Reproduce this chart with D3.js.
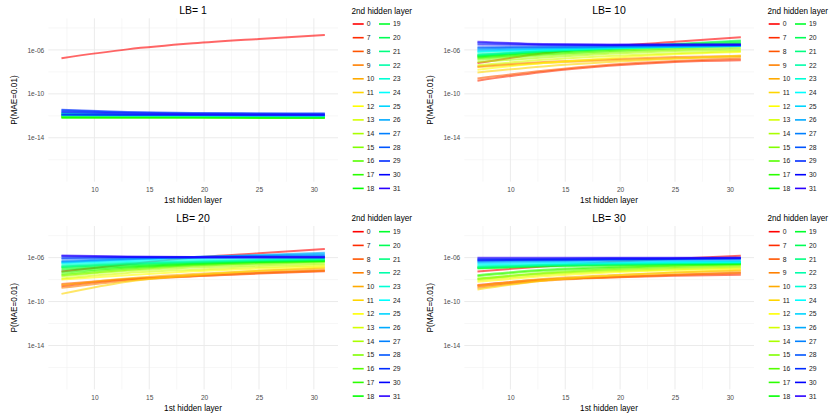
<!DOCTYPE html>
<html>
<head>
<meta charset="utf-8">
<script src="https://cdn.jsdelivr.net/npm/d3@7"></script>
<style>
  body { margin: 0; background: #fff; }
  text { font-family: "Liberation Sans", Arial, sans-serif; }
</style>
</head>
<body>
<svg width="832" height="418"></svg>
<script>
// 1st hidden layer sizes where each smoothed curve is sampled
var hidden1 = [7, 13, 19, 25, 31];

// 2nd hidden layer sizes (one line each)
var hidden2 = [0, 7, 8, 9, 10, 11, 12, 13, 14, 15, 16, 17, 18, 19, 20, 21, 22, 23, 24, 25, 26, 27, 28, 29, 30, 31];

var panelTitles = ["LB= 1", "LB= 10", "LB= 20", "LB= 30"];

var yTicks = [1e-6, 1e-10, 1e-14];
var xTicks = [10, 15, 20, 25, 30];

// log10 of P(MAE=0.01), one row per 2nd hidden layer
var lb1 = [
  [-6.75, -5.95, -5.4, -5.0, -4.64],
  [-11.95, -11.98, -12.0, -12.0, -12.0],
  [-11.9, -11.95, -11.97, -11.98, -12.0],
  [-12.0, -12.02, -12.03, -12.05, -12.05],
  [-11.92, -11.96, -11.98, -12.0, -12.02],
  [-12.05, -12.05, -12.06, -12.07, -12.08],
  [-11.98, -12.0, -12.02, -12.03, -12.04],
  [-12.1, -12.1, -12.1, -12.12, -12.12],
  [-12.05, -12.06, -12.07, -12.08, -12.1],
  [-12.12, -12.13, -12.14, -12.15, -12.15],
  [-12.08, -12.1, -12.11, -12.12, -12.13],
  [-12.15, -12.15, -12.16, -12.17, -12.18],
  [-12.18, -12.18, -12.18, -12.19, -12.2],
  [-11.85, -11.95, -12.0, -12.02, -12.05],
  [-11.75, -11.88, -11.95, -11.98, -12.0],
  [-12.0, -12.02, -12.04, -12.05, -12.06],
  [-11.9, -11.95, -11.98, -12.0, -12.02],
  [-11.8, -11.88, -11.92, -11.95, -11.97],
  [-11.95, -11.97, -11.98, -11.99, -12.0],
  [-11.7, -11.82, -11.88, -11.9, -11.92],
  [-11.6, -11.75, -11.82, -11.85, -11.88],
  [-11.85, -11.88, -11.9, -11.92, -11.93],
  [-11.5, -11.7, -11.78, -11.8, -11.82],
  [-11.45, -11.65, -11.75, -11.78, -11.8],
  [-11.9, -11.92, -11.93, -11.94, -11.95],
  [-11.65, -11.78, -11.85, -11.88, -11.9]
];

var lb10 = [
  [-7.2, -6.3, -5.7, -5.25, -4.85],
  [-8.8, -8.0, -7.45, -7.1, -6.95],
  [-8.6, -7.9, -7.35, -7.0, -6.8],
  [-7.5, -7.1, -6.85, -6.65, -6.55],
  [-7.55, -7.2, -6.95, -6.75, -6.65],
  [-8.05, -7.5, -7.1, -6.8, -6.5],
  [-7.8, -7.2, -6.75, -6.4, -6.2],
  [-7.4, -6.9, -6.55, -6.3, -6.1],
  [-7.1, -6.7, -6.35, -6.1, -5.95],
  [-6.9, -6.5, -6.2, -5.95, -5.8],
  [-6.75, -6.4, -6.1, -5.85, -5.6],
  [-6.7, -6.3, -6.0, -5.7, -5.45],
  [-6.6, -6.2, -5.9, -5.6, -5.35],
  [-6.55, -6.15, -5.85, -5.5, -5.2],
  [-6.5, -6.1, -5.8, -5.45, -5.15],
  [-6.45, -6.1, -5.85, -5.6, -5.4],
  [-6.4, -6.1, -5.9, -5.7, -5.55],
  [-6.2, -6.0, -5.85, -5.75, -5.65],
  [-6.15, -5.95, -5.8, -5.7, -5.65],
  [-6.05, -5.9, -5.75, -5.65, -5.6],
  [-5.95, -5.85, -5.75, -5.7, -5.65],
  [-5.85, -5.75, -5.7, -5.65, -5.6],
  [-5.75, -5.7, -5.65, -5.6, -5.55],
  [-5.35, -5.5, -5.55, -5.55, -5.55],
  [-5.5, -5.55, -5.55, -5.5, -5.5],
  [-5.25, -5.45, -5.5, -5.5, -5.5]
];

var lb20 = [
  [-7.26, -6.6, -6.0, -5.6, -5.22],
  [-8.6, -8.0, -7.7, -7.45, -7.25],
  [-8.4, -7.95, -7.6, -7.35, -7.15],
  [-8.75, -8.1, -7.7, -7.4, -7.2],
  [-8.5, -7.9, -7.5, -7.2, -7.0],
  [-9.3, -8.2, -7.6, -7.2, -6.9],
  [-8.0, -7.6, -7.25, -7.0, -6.8],
  [-7.9, -7.4, -7.1, -6.85, -6.7],
  [-7.7, -7.2, -6.9, -6.7, -6.55],
  [-7.6, -7.1, -6.75, -6.55, -6.4],
  [-7.5, -7.0, -6.7, -6.5, -6.35],
  [-7.3, -6.9, -6.6, -6.4, -6.3],
  [-7.1, -6.8, -6.55, -6.4, -6.3],
  [-6.95, -6.7, -6.5, -6.35, -6.25],
  [-6.85, -6.6, -6.45, -6.3, -6.2],
  [-6.8, -6.55, -6.4, -6.25, -6.15],
  [-6.75, -6.5, -6.35, -6.2, -6.1],
  [-6.6, -6.4, -6.25, -6.15, -6.05],
  [-6.5, -6.3, -6.1, -5.95, -5.85],
  [-6.45, -6.2, -6.0, -5.8, -5.65],
  [-6.4, -6.15, -5.95, -5.75, -5.55],
  [-6.3, -6.1, -5.95, -5.85, -5.75],
  [-6.1, -6.0, -5.95, -5.9, -5.9],
  [-6.0, -5.95, -5.95, -5.95, -5.95],
  [-5.85, -5.95, -6.0, -6.0, -6.0],
  [-5.8, -5.9, -5.95, -5.95, -5.95]
];

var lb30 = [
  [-7.26, -6.8, -6.4, -6.1, -5.82],
  [-8.5, -8.0, -7.8, -7.65, -7.55],
  [-8.6, -8.05, -7.75, -7.55, -7.4],
  [-8.75, -8.1, -7.8, -7.55, -7.35],
  [-8.55, -7.95, -7.6, -7.35, -7.2],
  [-8.9, -8.1, -7.65, -7.35, -7.1],
  [-8.2, -7.7, -7.35, -7.15, -7.0],
  [-8.05, -7.55, -7.25, -7.05, -6.9],
  [-7.9, -7.45, -7.15, -6.95, -6.8],
  [-7.95, -7.4, -7.05, -6.85, -6.7],
  [-7.7, -7.2, -6.95, -6.75, -6.6],
  [-7.6, -7.1, -6.85, -6.7, -6.6],
  [-7.0, -6.8, -6.7, -6.6, -6.55],
  [-6.95, -6.75, -6.65, -6.55, -6.5],
  [-6.9, -6.7, -6.6, -6.55, -6.5],
  [-6.85, -6.7, -6.6, -6.5, -6.45],
  [-6.8, -6.65, -6.55, -6.5, -6.45],
  [-6.7, -6.6, -6.5, -6.45, -6.4],
  [-6.6, -6.5, -6.45, -6.4, -6.4],
  [-6.5, -6.4, -6.35, -6.3, -6.3],
  [-6.4, -6.3, -6.25, -6.2, -6.2],
  [-6.3, -6.25, -6.2, -6.15, -6.1],
  [-6.2, -6.15, -6.1, -6.1, -6.05],
  [-6.1, -6.1, -6.05, -6.05, -6.0],
  [-6.25, -6.2, -6.15, -6.1, -6.05],
  [-6.0, -6.0, -6.0, -6.0, -6.0]
];

var panels = [lb1, lb10, lb20, lb30];

// rainbow colours, 10 degrees of hue per legend entry
var colour = d3.scaleOrdinal()
    .domain(hidden2)
    .range(hidden2.map(function(d, i) { return d3.hsl(i * 10, 1, 0.5).toString(); }));

var svg = d3.select("svg");

var x = d3.scaleLinear().domain([5.8, 32.2]).range([48.3, 338]);
var y = d3.scaleLog().domain([1e-18, Math.pow(10, -3.12)]).range([181.7, 18.3]);

var line = d3.line()
    .curve(d3.curveMonotoneX)
    .x(function(d) { return x(d[0]); })
    .y(function(d) { return y(d[1]); });

var offsets = [[0, 0], [416, 0], [0, 207.7], [416, 207.7]];

panels.forEach(function(rows, p) {
  var g = svg.append("g")
      .attr("transform", "translate(" + offsets[p][0] + "," + offsets[p][1] + ")");

  // minor grid
  var xMinor = [7.5, 12.5, 17.5, 22.5, 27.5];
  var yMinor = [1e-4, 1e-8, 1e-12, 1e-16];
  g.selectAll(".xminor").data(xMinor).enter().append("line")
      .attr("x1", x).attr("x2", x).attr("y1", 18.3).attr("y2", 181.7)
      .attr("stroke", "#f2f2f2").attr("stroke-width", 0.6);
  g.selectAll(".yminor").data(yMinor).enter().append("line")
      .attr("y1", y).attr("y2", y).attr("x1", 48.3).attr("x2", 338)
      .attr("stroke", "#f2f2f2").attr("stroke-width", 0.6);
  // major grid
  g.selectAll(".xmajor").data(xTicks).enter().append("line")
      .attr("x1", x).attr("x2", x).attr("y1", 18.3).attr("y2", 181.7)
      .attr("stroke", "#ebebeb").attr("stroke-width", 1);
  g.selectAll(".ymajor").data(yTicks).enter().append("line")
      .attr("y1", y).attr("y2", y).attr("x1", 48.3).attr("x2", 338)
      .attr("stroke", "#ebebeb").attr("stroke-width", 1);

  // axes (labels only, like theme_minimal)
  var xAxis = g.append("g").attr("transform", "translate(0,181.7)")
      .call(d3.axisBottom(x).tickValues(xTicks).tickSize(0).tickPadding(6));
  var yAxis = g.append("g").attr("transform", "translate(48.3,0)")
      .call(d3.axisLeft(y).tickValues(yTicks).tickSize(0).tickPadding(4)
        .tickFormat(function(d) { return "1e-" + String(Math.round(-Math.log10(d))).padStart(2, "0"); }));
  [xAxis, yAxis].forEach(function(a) {
    a.select(".domain").remove();
    a.selectAll("text").attr("fill", "#4d4d4d").style("font-size", "6.6px")
      .style("font-family", "Liberation Sans, Arial, sans-serif");
  });

  // lines
  g.selectAll(".series").data(rows).enter().append("path")
      .attr("d", function(r) { return line(r.map(function(v, j) { return [hidden1[j], Math.pow(10, v)]; })); })
      .attr("fill", "none")
      .attr("stroke", function(r, i) { return colour(hidden2[i]); })
      .attr("stroke-width", 2)
      .attr("stroke-opacity", 0.6);

  // titles
  g.append("text").attr("x", 193).attr("y", 14).attr("text-anchor", "middle")
      .style("font-size", "10.5px").text(panelTitles[p]);
  g.append("text").attr("x", 193).attr("y", 203).attr("text-anchor", "middle")
      .style("font-size", "8.2px").text("1st hidden layer");
  g.append("text").attr("transform", "translate(17,100) rotate(-90)").attr("text-anchor", "middle")
      .style("font-size", "8.2px").text("P(MAE=0.01)");

  // legend
  var lg = g.append("g").attr("transform", "translate(351.5,0)");
  lg.append("text").attr("x", 0).attr("y", 13.5).style("font-size", "8.2px").text("2nd hidden layer");
  var item = lg.selectAll(".item").data(hidden2).enter().append("g")
      .attr("transform", function(d, i) {
        var col = Math.floor(i / 13), row = i % 13;
        return "translate(" + (col * 26.3 + 1.2) + "," + (24 + row * 13.7) + ")";
      });
  item.append("line").attr("x1", 0).attr("x2", 11).attr("y1", 0).attr("y2", 0)
      .attr("stroke", function(d) { return colour(d); }).attr("stroke-width", 1.6);
  item.append("text").attr("x", 14).attr("y", 2.4).attr("fill", "#1a1a1a")
      .style("font-size", "6.8px").text(function(d) { return d; });
});
</script>
</body>
</html>
